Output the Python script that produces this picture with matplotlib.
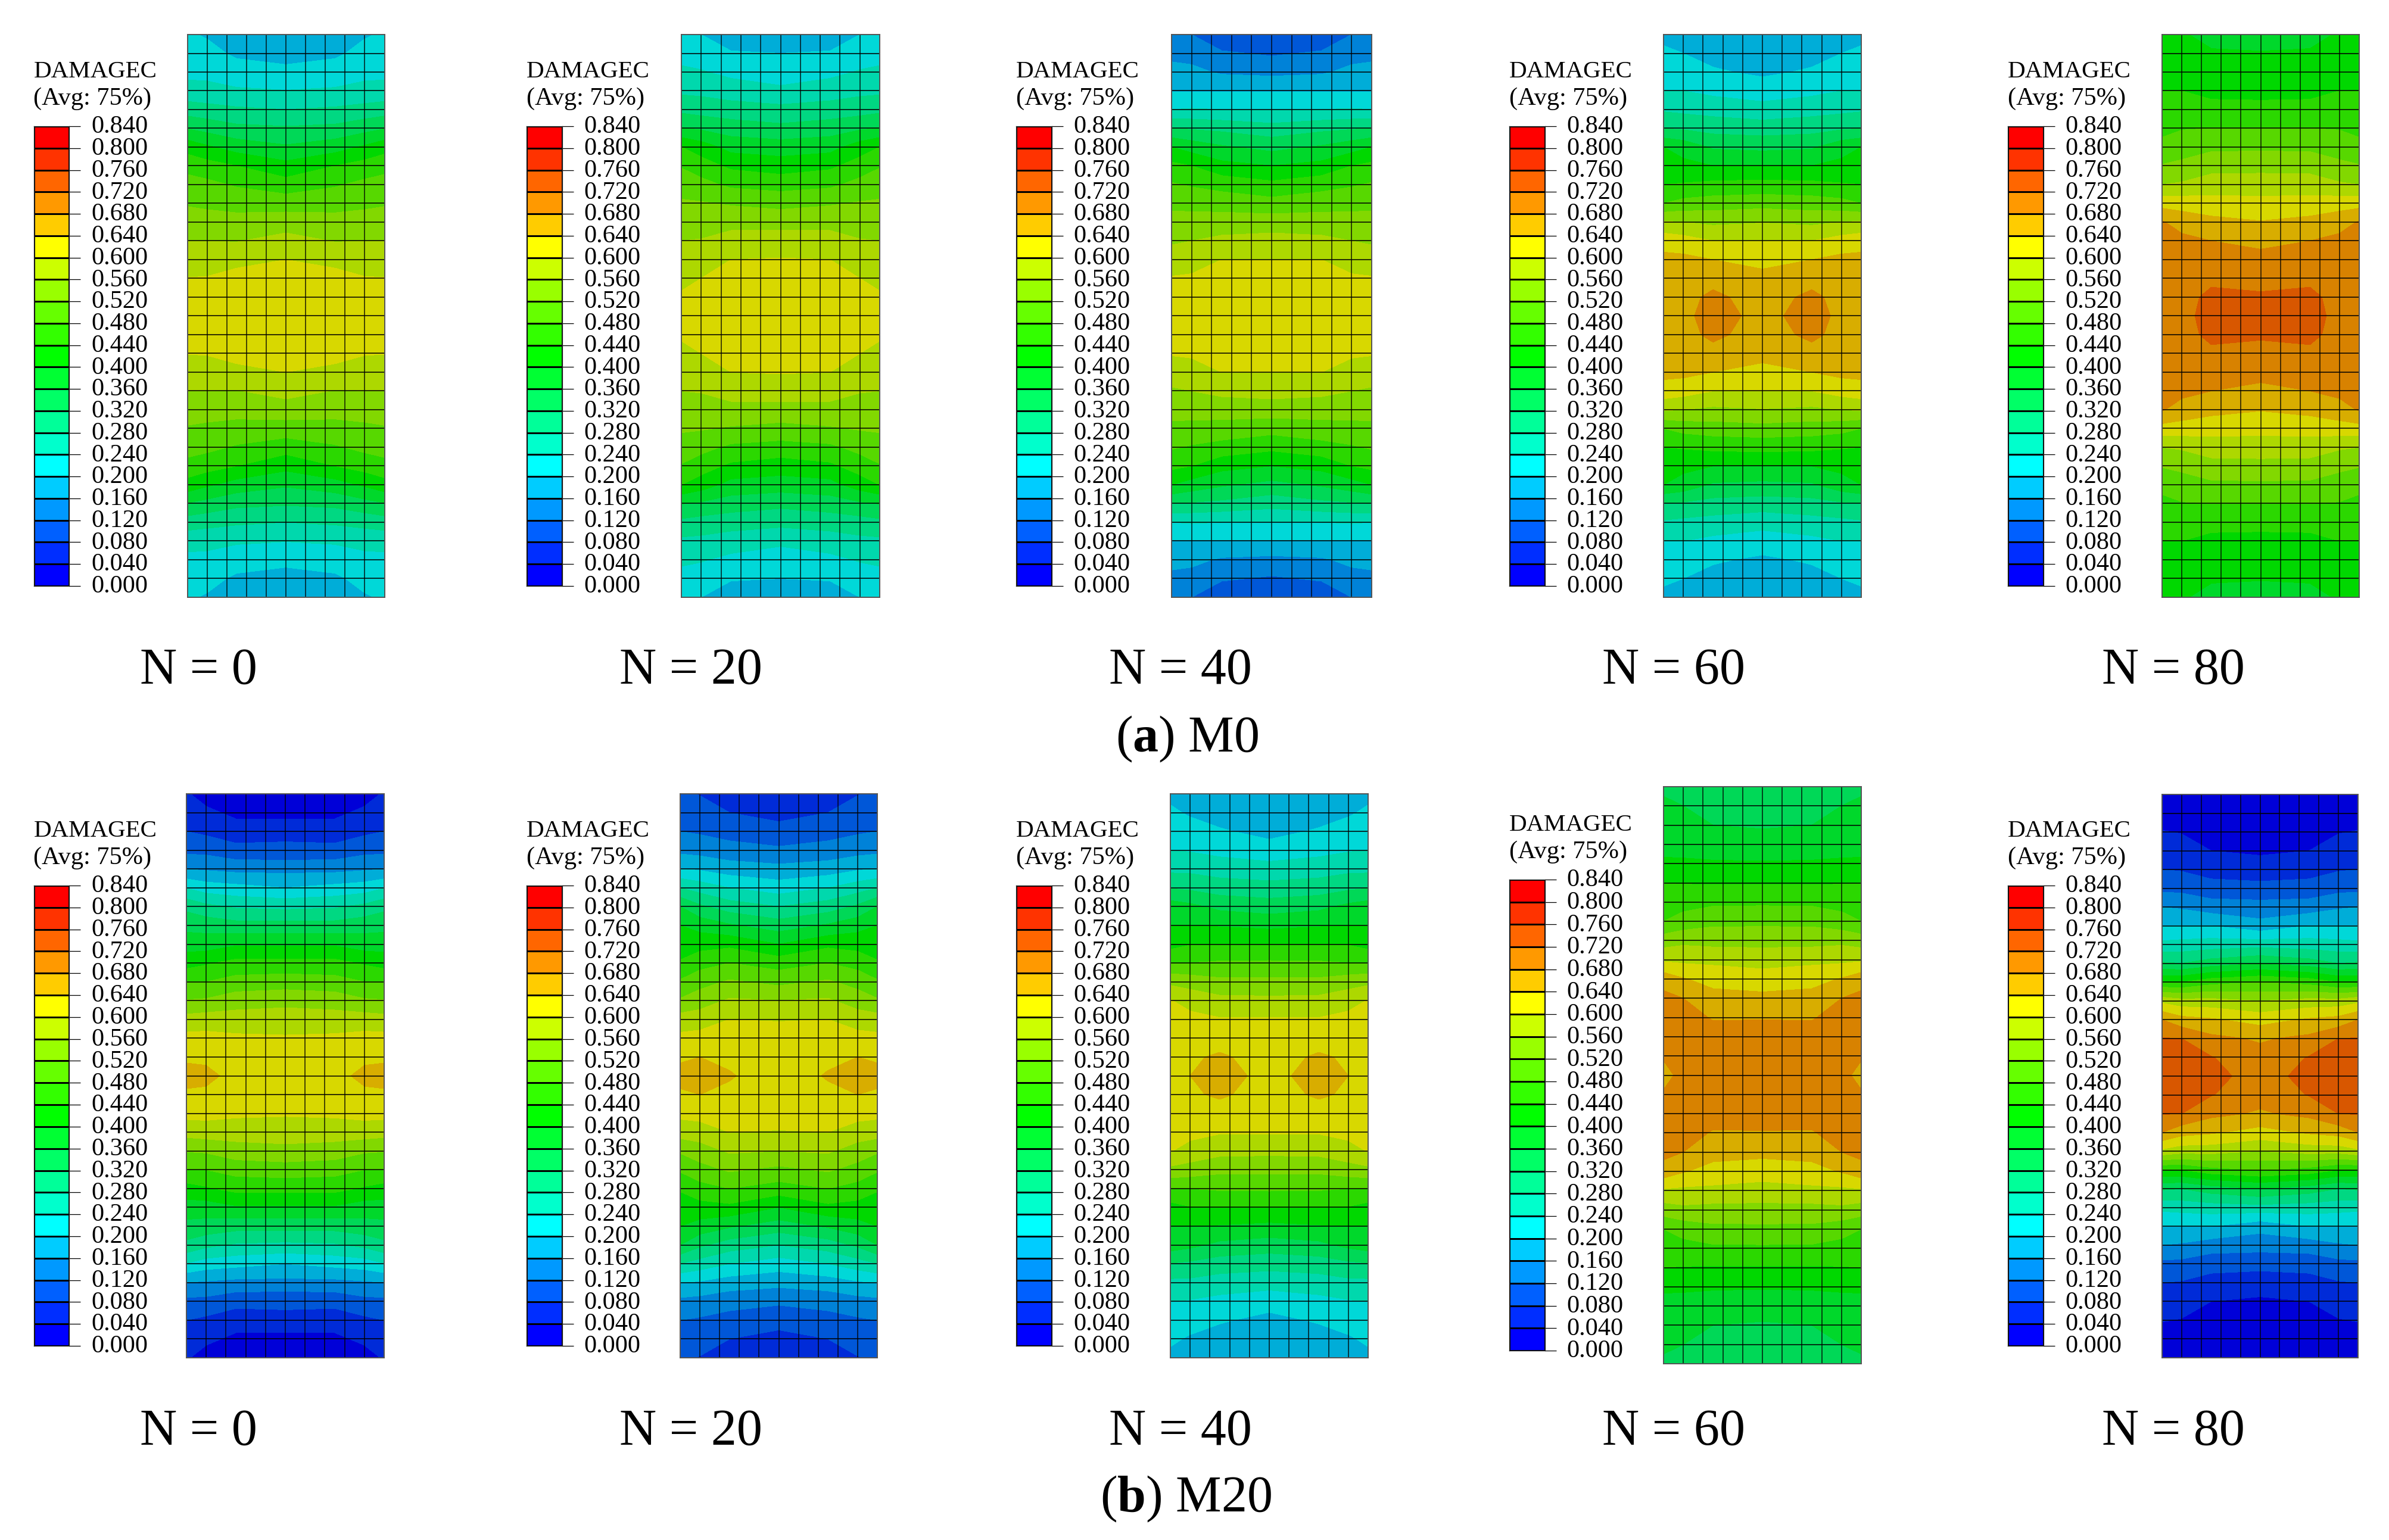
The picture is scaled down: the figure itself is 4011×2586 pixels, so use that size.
import matplotlib
matplotlib.use("Agg")
import matplotlib.pyplot as plt
from matplotlib.colors import ListedColormap, BoundaryNorm
from matplotlib.transforms import ScaledTranslation
import numpy as np

plt.rcParams['font.family'] = ['Liberation Serif', 'DejaVu Serif']
plt.rcParams['mathtext.fontset'] = 'custom'
plt.rcParams['mathtext.rm'] = 'Liberation Serif'
plt.rcParams['mathtext.bf'] = 'Liberation Serif:bold'

W, H = 4011, 2586

levels = [0.000, 0.040, 0.080, 0.120, 0.160, 0.200, 0.240, 0.280, 0.320, 0.360, 0.400,
          0.440, 0.480, 0.520, 0.560, 0.600, 0.640, 0.680, 0.720, 0.760, 0.800, 0.840]
legend_colors = ['#0000FF', '#002EFF', '#0060FF', '#0099FF', '#00CCFF', '#00FFFF', '#00FFCC',
                 '#00FF99', '#00FF66', '#00FF33', '#00FF00', '#33FF00', '#66FF00', '#99FF00',
                 '#CCFF00', '#FFFF00', '#FFCC00', '#FF9900', '#FF6600', '#FF3300', '#FF0000']
field_colors = ['#0000D8', '#002BD8', '#0057D8', '#0082D8', '#00ADD8', '#00D8D8', '#00D8AD',
                '#00D882', '#00D857', '#00D82B', '#00D800', '#2BD800', '#57D800', '#82D800',
                '#ADD800', '#D8D800', '#D8AD00', '#D88200', '#D85700', '#D82B00', '#D80000']

# damage read at mesh nodes, rows 0..15 from the top edge to mid height
# columns: edge, 1 element in, 2.5 elements in, centre
m0_n0 = [[.205, .215, .23, .254, .30, .358, .425, .465, .498, .516, .54, .56, .58, .601, .615, .62],
         [.196, .213, .23, .251, .294, .346, .406, .456, .49, .51, .54, .56, .583, .602, .615, .62],
         [.17, .193, .218, .245, .286, .33, .383, .44, .476, .505, .535, .558, .59, .612, .625, .63],
         [.165, .185, .21, .241, .28, .325, .365, .413, .457, .503, .54, .575, .60, .615, .625, .63]]
m0_n20 = [[.205, .225, .248, .272, .31, .362, .44, .477, .503, .525, .545, .56, .575, .59, .605, .615],
          [.20, .22, .243, .27, .303, .354, .42, .458, .493, .523, .544, .562, .58, .60, .615, .62],
          [.18, .203, .23, .26, .298, .34, .386, .432, .472, .516, .548, .575, .60, .618, .63, .635],
          [.175, .20, .22, .248, .292, .33, .38, .42, .464, .508, .545, .58, .602, .62, .63, .635]]
m0_n40 = [[.13, .15, .172, .197, .24, .32, .40, .45, .484, .51, .535, .555, .578, .603, .62, .625],
          [.12, .145, .17, .197, .243, .316, .383, .44, .476, .508, .535, .56, .585, .605, .62, .628],
          [.09, .125, .155, .197, .24, .31, .365, .413, .465, .505, .537, .57, .60, .62, .63, .635],
          [.085, .115, .15, .197, .24, .295, .348, .40, .45, .495, .54, .575, .60, .62, .63, .635]]
m0_n60 = [[.19, .207, .225, .24, .275, .318, .40, .42, .44, .48, .565, .625, .65, .66, .665, .668],
          [.18, .20, .22, .24, .27, .315, .385, .41, .443, .493, .56, .617, .65, .662, .665, .668],
          [.17, .186, .205, .23, .265, .305, .355, .40, .45, .50, .552, .60, .64, .665, .69, .70],
          [.17, .18, .193, .22, .255, .30, .35, .40, .453, .505, .558, .60, .63, .65, .66, .665]]
m0_n80 = [[.405, .42, .43, .44, .45, .466, .495, .522, .56, .625, .683, .695, .70, .705, .71, .712],
          [.405, .418, .428, .44, .46, .478, .50, .53, .565, .622, .665, .69, .70, .705, .708, .708],
          [.385, .405, .418, .43, .452, .48, .512, .545, .58, .615, .652, .68, .697, .713, .728, .735],
          [.385, .402, .415, .43, .45, .48, .513, .547, .58, .612, .642, .672, .69, .708, .725, .73]]
m20_n0 = [[.045, .06, .08, .11, .158, .238, .31, .347, .383, .423, .48, .522, .575, .612, .633, .655],
          [.02, .05, .072, .108, .155, .22, .29, .345, .38, .435, .48, .525, .58, .612, .632, .65],
          [.012, .03, .06, .092, .148, .212, .275, .335, .395, .452, .495, .542, .578, .607, .618, .628],
          [.015, .025, .07, .088, .148, .20, .27, .335, .395, .453, .50, .548, .58, .604, .615, .625]]
m20_n20 = [[.085, .10, .12, .15, .20, .28, .36, .40, .42, .444, .485, .525, .578, .61, .633, .655],
           [.078, .098, .115, .145, .195, .262, .327, .385, .425, .465, .505, .542, .58, .615, .64, .656],
           [.06, .08, .105, .135, .18, .24, .30, .365, .43, .48, .525, .565, .60, .62, .635, .642],
           [.06, .068, .093, .127, .172, .22, .28, .34, .40, .462, .51, .56, .598, .615, .622, .628]]
m20_n40 = [[.19, .207, .225, .24, .27, .318, .38, .40, .425, .48, .55, .602, .617, .625, .63, .632],
           [.175, .195, .217, .237, .27, .312, .37, .40, .438, .48, .543, .585, .612, .625, .635, .64],
           [.165, .18, .205, .228, .262, .30, .35, .397, .44, .485, .53, .572, .603, .625, .645, .655],
           [.165, .175, .187, .218, .255, .295, .34, .39, .44, .486, .53, .57, .603, .615, .625, .628]]
m20_n60 = [[.35, .37, .38, .392, .404, .44, .456, .48, .54, .593, .665, .69, .695, .70, .69, .65],
           [.33, .36, .375, .388, .405, .438, .465, .495, .55, .59, .643, .68, .695, .70, .705, .708],
           [.335, .347, .36, .382, .404, .437, .472, .51, .545, .59, .625, .655, .677, .695, .70, .705],
           [.335, .345, .355, .38, .403, .437, .473, .51, .547, .582, .62, .65, .678, .695, .70, .705]]
m20_n80 = [[.01, .02, .042, .06, .08, .11, .16, .20, .25, .325, .44, .59, .68, .722, .74, .745],
           [.01, .02, .038, .058, .077, .108, .155, .20, .255, .32, .44, .575, .655, .72, .74, .745],
           [.01, .015, .025, .04, .065, .095, .14, .20, .26, .34, .465, .575, .645, .69, .722, .735],
           [.01, .015, .025, .035, .055, .095, .135, .175, .265, .36, .48, .56, .625, .675, .695, .70]]

cycles = ['N = 0', 'N = 20', 'N = 40', 'N = 60', 'N = 80']
row_titles = [r'($\mathbf{a}$) M0', r'($\mathbf{b}$) M20']
fields = [[m0_n0, m0_n20, m0_n40, m0_n60, m0_n80],
          [m20_n0, m20_n20, m20_n40, m20_n60, m20_n80]]

# layout, in pixels of the full image
mesh_x = [[314.5, 1144, 1967, 2793, 3630], [313, 1142, 1965, 2793, 3630]]
mesh_right = [[645.5, 1477, 2303, 3125, 3961], [645, 1473, 2297, 3125, 3959]]
mesh_top = [[58, 58, 58, 58, 58], [1333, 1333, 1333, 1321, 1334]]
mesh_bottom = [[1003, 1003, 1003, 1003, 1003], [2280, 2280, 2280, 2290, 2280]]
bar_left = [56.5, 884, 1706, 2534, 3371]
bar_top = [[212, 212, 212, 212, 212], [1487, 1487, 1487, 1477, 1487]]
bar_bottom = [[984, 984, 984, 984, 984], [2260, 2260, 2260, 2268, 2260]]
label_x = [333, 1160, 1982, 2810, 3649]
label_base = [1148, 2426]
title_x = [1993, 1991]
title_base = [1262, 2538]

columns = [0, 1, 2.5, 5, 7.5, 9, 10]
rows = np.arange(31)
cmap_bar = ListedColormap(legend_colors)
norm = BoundaryNorm(levels, 21)

fig = plt.figure(figsize=(W / 100, H / 100), dpi=100, facecolor='white')
label_shift = ScaledTranslation(0, 3.5 / 100, fig.dpi_scale_trans)


def pixel_axes(left, top, right, bottom):
    return fig.add_axes([left / W, 1 - bottom / H, (right - left) / W, (bottom - top) / H])


for i in range(2):
    for j in range(5):
        top_half = np.array(fields[i][j]).T
        half = np.hstack([top_half, top_half[:, 2::-1]])
        z = np.vstack([half, half[14::-1]])

        ax = pixel_axes(mesh_x[i][j], mesh_top[i][j], mesh_right[i][j], mesh_bottom[i][j])
        ax.contourf(columns, rows, z, levels=levels, colors=field_colors)
        ax.hlines(rows, 0, 10, color='black', lw=1.3, alpha=0.85)
        ax.vlines(np.arange(11), 0, 30, color='black', lw=1.3, alpha=0.75)
        ax.set_xlim(0, 10)
        ax.set_ylim(30, 0)
        ax.set_xticks([])
        ax.set_yticks([])
        for s in ax.spines.values():
            s.set_color('#555555')
            s.set_linewidth(1.4)

        cb = pixel_axes(bar_left[j], bar_top[i][j], bar_left[j] + 60, bar_bottom[i][j])
        cb.pcolormesh([0, 1], levels, np.array(levels[:-1]).reshape(-1, 1) + 0.02, cmap=cmap_bar,
                      norm=norm, edgecolors='black', linewidth=0.8)
        cb.set_xticks([])
        cb.yaxis.tick_right()
        cb.set_yticks(levels)
        cb.set_yticklabels(['%.3f' % v for v in levels])
        cb.tick_params(axis='y', length=13.5, width=0.9, pad=13, labelsize=30.5)
        for t in cb.get_yticklabels():
            t.set_transform(t.get_transform() + label_shift)
        for s in cb.spines.values():
            s.set_linewidth(0.9)
            s.set_color('#222222')

        head = bar_top[i][j] - 82
        fig.text(bar_left[j] / W, 1 - head / H, 'DAMAGEC', fontsize=29.5, va='baseline', ha='left')
        fig.text(bar_left[j] / W, 1 - (head + 46) / H, '(Avg: 75%)', fontsize=30.5, va='baseline', ha='left')

        fig.text(label_x[j] / W, 1 - label_base[i] / H, cycles[j], fontsize=62, ha='center', va='baseline')

    fig.text(title_x[i] / W, 1 - title_base[i] / H, row_titles[i], fontsize=62, ha='center', va='baseline')

fig.savefig('out.png', dpi=100)
